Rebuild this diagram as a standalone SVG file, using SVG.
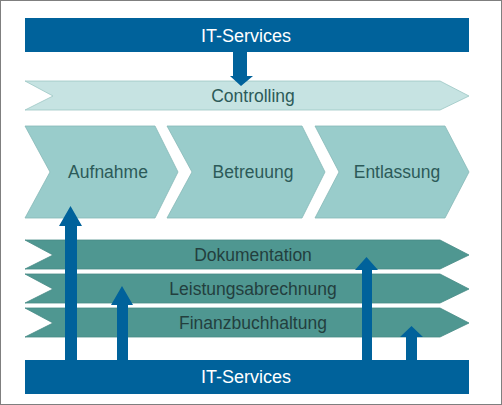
<svg xmlns="http://www.w3.org/2000/svg" width="502" height="405" viewBox="0 0 502 405">
<style>
text{font-family:"Liberation Sans",Arial,sans-serif;text-anchor:middle}
.bar{fill:#00629b}
.bt{fill:#fff;font-size:18px}
.ctl{fill:#c6e3e2;stroke:#9cc6c4;stroke-width:0.8}
.proc{fill:#99cccb;stroke:#86b9b8;stroke-width:0.8}
.sup{fill:#4f9791;stroke:#468a85;stroke-width:0.8}
.t{fill:#2c5a58;font-size:17.5px}
.ts{fill:#233f3e;font-size:17.5px}
.arr{fill:#00629b}
</style>
<rect x="0.5" y="0.5" width="501" height="404" fill="#fff" stroke="#7f7f7f" stroke-width="1"/>
<g id="it-top"><rect class="bar" x="25" y="18" width="444" height="34"/><text class="bt" x="246" y="42">IT-Services</text></g>
<g id="controlling"><polygon class="ctl" points="25,81 440,81 469,96 440,110 25,110 53,96"/><text class="t" x="253" y="102">Controlling</text></g>
<g id="aufnahme"><polygon class="proc" points="25,126 155,126 178,172 155,218 25,218 50,172"/><text class="t" x="108" y="178">Aufnahme</text></g>
<g id="betreuung"><polygon class="proc" points="167,126 302,126 325,172 302,218 167,218 192,172"/><text class="t" x="253" y="178">Betreuung</text></g>
<g id="entlassung"><polygon class="proc" points="315,126 445,126 469,172 445,218 315,218 339,172"/><text class="t" x="397" y="178">Entlassung</text></g>
<g id="dokumentation"><polygon class="sup" points="25,240 440,240 469,255 440,269 25,269 53,255"/><text class="ts" x="253" y="261">Dokumentation</text></g>
<g id="leistungsabrechnung"><polygon class="sup" points="25,274 440,274 469,289 440,303 25,303 53,289"/><text class="ts" x="253" y="295">Leistungsabrechnung</text></g>
<g id="finanzbuchhaltung"><polygon class="sup" points="25,308 440,308 469,323 440,337 25,337 53,323"/><text class="ts" x="253" y="329">Finanzbuchhaltung</text></g>
<g id="it-bottom"><rect class="bar" x="25" y="360" width="444" height="34"/><text class="bt" x="246" y="383">IT-Services</text></g>
<g id="connectors">
<polygon class="arr" points="233,52 247,52 247,76 253,76 241,86 230,76 233,76"/>
<polygon class="arr" points="65,360 77,360 77,226 82,226 70.5,206 59,226 65,226"/>
<polygon class="arr" points="117,360 128,360 128,305 133,305 122,286 111,305 117,305"/>
<polygon class="arr" points="362,365 372,365 372,270 378,270 366.5,257 355,270 362,270"/>
<polygon class="arr" points="406,365 417,365 417,337 423,337 411.5,326 400,337 406,337"/>
</g>
</svg>
